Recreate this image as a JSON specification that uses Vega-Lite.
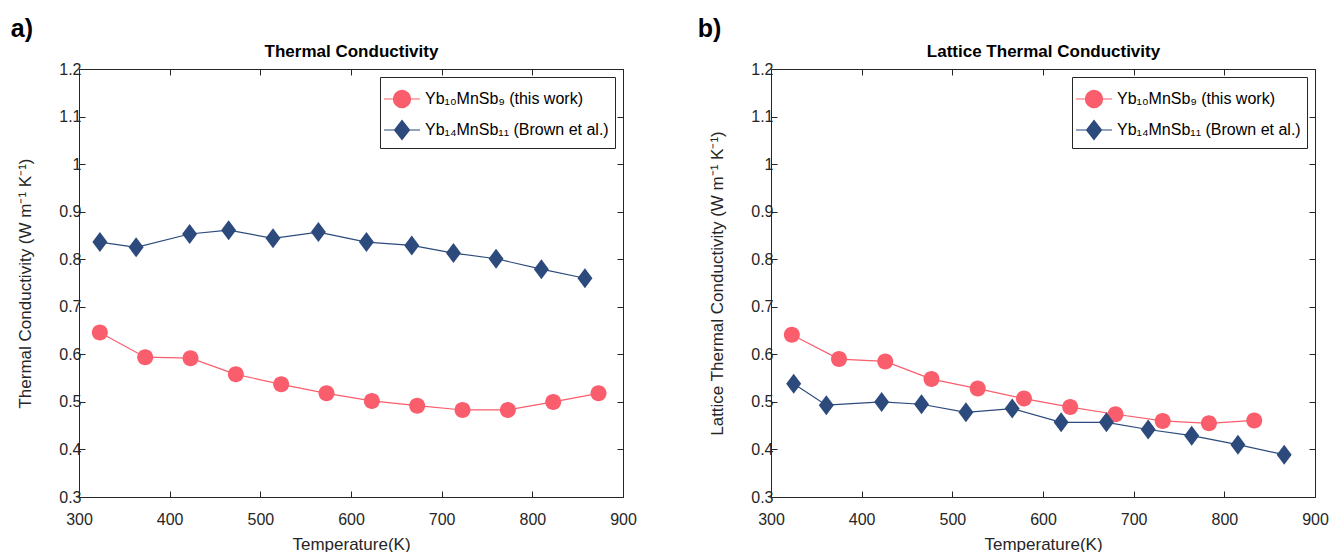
{
  "$schema": "https://vega.github.io/schema/vega-lite/v6.json",
  "background": "white",
  "padding": {"left": 10, "top": 16, "right": 10, "bottom": 0},
  "config": {
    "font": "Liberation Sans",
    "view": {"stroke": null},
    "concat": {"spacing": 60},
    "axis": {
      "grid": false,
      "domainColor": "#262626",
      "tickColor": "#262626",
      "labelColor": "#262626",
      "titleColor": "#262626",
      "labelFont": "Liberation Sans",
      "titleFont": "Liberation Sans",
      "labelFontSize": 16,
      "titleFontSize": 17,
      "titleFontWeight": "normal",
      "tickSize": -6,
      "domainWidth": 1,
      "labelFlush": false,
      "labelOverlap": false
    },
    "axisX": {"labelPadding": 20, "titlePadding": 9},
    "axisY": {"labelPadding": 4},
    "legend": {
      "orient": "top-right", "offset": 8,
      "strokeColor": "#262626", "fillColor": "white", "padding": 6,
      "labelFont": "Liberation Sans", "labelFontSize": 16, "labelColor": "#000000", "labelLimit": 400,
      "symbolSize": 900, "labelOffset": 7, "rowPadding": 4
    },
    "title": {"font": "Liberation Sans", "color": "#000000"}
  },
  "resolve": {"scale": {"color": "independent"}, "legend": {"color": "independent"}},
  "datasets": {
    "a": [
      {"T": 323, "k": 0.646, "series": "Yb₁₀MnSb₉ (this work)"},
      {"T": 373, "k": 0.594, "series": "Yb₁₀MnSb₉ (this work)"},
      {"T": 423, "k": 0.592, "series": "Yb₁₀MnSb₉ (this work)"},
      {"T": 473, "k": 0.558, "series": "Yb₁₀MnSb₉ (this work)"},
      {"T": 523, "k": 0.537, "series": "Yb₁₀MnSb₉ (this work)"},
      {"T": 573, "k": 0.518, "series": "Yb₁₀MnSb₉ (this work)"},
      {"T": 623, "k": 0.502, "series": "Yb₁₀MnSb₉ (this work)"},
      {"T": 673, "k": 0.492, "series": "Yb₁₀MnSb₉ (this work)"},
      {"T": 723, "k": 0.483, "series": "Yb₁₀MnSb₉ (this work)"},
      {"T": 773, "k": 0.483, "series": "Yb₁₀MnSb₉ (this work)"},
      {"T": 823, "k": 0.500, "series": "Yb₁₀MnSb₉ (this work)"},
      {"T": 873, "k": 0.518, "series": "Yb₁₀MnSb₉ (this work)"},
      {"T": 323, "k": 0.836, "series": "Yb₁₄MnSb₁₁ (Brown et al.)"},
      {"T": 363, "k": 0.825, "series": "Yb₁₄MnSb₁₁ (Brown et al.)"},
      {"T": 422, "k": 0.853, "series": "Yb₁₄MnSb₁₁ (Brown et al.)"},
      {"T": 465, "k": 0.861, "series": "Yb₁₄MnSb₁₁ (Brown et al.)"},
      {"T": 514, "k": 0.844, "series": "Yb₁₄MnSb₁₁ (Brown et al.)"},
      {"T": 564, "k": 0.857, "series": "Yb₁₄MnSb₁₁ (Brown et al.)"},
      {"T": 617, "k": 0.836, "series": "Yb₁₄MnSb₁₁ (Brown et al.)"},
      {"T": 667, "k": 0.829, "series": "Yb₁₄MnSb₁₁ (Brown et al.)"},
      {"T": 713, "k": 0.813, "series": "Yb₁₄MnSb₁₁ (Brown et al.)"},
      {"T": 760, "k": 0.801, "series": "Yb₁₄MnSb₁₁ (Brown et al.)"},
      {"T": 810, "k": 0.779, "series": "Yb₁₄MnSb₁₁ (Brown et al.)"},
      {"T": 858, "k": 0.760, "series": "Yb₁₄MnSb₁₁ (Brown et al.)"}
    ],
    "b": [
      {"T": 323, "k": 0.641, "series": "Yb₁₀MnSb₉ (this work)"},
      {"T": 375, "k": 0.590, "series": "Yb₁₀MnSb₉ (this work)"},
      {"T": 426, "k": 0.585, "series": "Yb₁₀MnSb₉ (this work)"},
      {"T": 477, "k": 0.548, "series": "Yb₁₀MnSb₉ (this work)"},
      {"T": 528, "k": 0.528, "series": "Yb₁₀MnSb₉ (this work)"},
      {"T": 579, "k": 0.507, "series": "Yb₁₀MnSb₉ (this work)"},
      {"T": 630, "k": 0.489, "series": "Yb₁₀MnSb₉ (this work)"},
      {"T": 680, "k": 0.474, "series": "Yb₁₀MnSb₉ (this work)"},
      {"T": 732, "k": 0.460, "series": "Yb₁₀MnSb₉ (this work)"},
      {"T": 783, "k": 0.455, "series": "Yb₁₀MnSb₉ (this work)"},
      {"T": 833, "k": 0.461, "series": "Yb₁₀MnSb₉ (this work)"},
      {"T": 325, "k": 0.538, "series": "Yb₁₄MnSb₁₁ (Brown et al.)"},
      {"T": 361, "k": 0.493, "series": "Yb₁₄MnSb₁₁ (Brown et al.)"},
      {"T": 422, "k": 0.500, "series": "Yb₁₄MnSb₁₁ (Brown et al.)"},
      {"T": 466, "k": 0.495, "series": "Yb₁₄MnSb₁₁ (Brown et al.)"},
      {"T": 515, "k": 0.478, "series": "Yb₁₄MnSb₁₁ (Brown et al.)"},
      {"T": 566, "k": 0.486, "series": "Yb₁₄MnSb₁₁ (Brown et al.)"},
      {"T": 620, "k": 0.457, "series": "Yb₁₄MnSb₁₁ (Brown et al.)"},
      {"T": 670, "k": 0.457, "series": "Yb₁₄MnSb₁₁ (Brown et al.)"},
      {"T": 716, "k": 0.442, "series": "Yb₁₄MnSb₁₁ (Brown et al.)"},
      {"T": 764, "k": 0.429, "series": "Yb₁₄MnSb₁₁ (Brown et al.)"},
      {"T": 815, "k": 0.410, "series": "Yb₁₄MnSb₁₁ (Brown et al.)"},
      {"T": 866, "k": 0.389, "series": "Yb₁₄MnSb₁₁ (Brown et al.)"}
    ]
  },
  "hconcat": [
    {
      "title": {"text": "a)", "anchor": "start", "frame": "bounds", "fontSize": 25, "fontWeight": "bold", "dx": -6, "offset": 1},
      "width": 544,
      "height": 428,
      "data": {"name": "a"},
      "layer": [
        {
          "mark": {"type": "line", "strokeWidth": 1.2},
          "encoding": {
            "x": {"field": "T", "type": "quantitative", "scale": {"domain": [300, 900], "nice": false, "zero": false}, "axis": {"values": [300, 400, 500, 600, 700, 800, 900], "title": "Temperature(K)"}},
            "y": {"field": "k", "type": "quantitative", "scale": {"domain": [0.3, 1.2], "nice": false, "zero": false}, "axis": {"values": [0.3, 0.4, 0.5, 0.6, 0.7, 0.8, 0.9, 1, 1.1, 1.2], "format": "~g", "title": "Thermal Conductivity (W m⁻¹ K⁻¹)", "titlePadding": 24}},
            "color": {
              "field": "series", "type": "nominal",
              "scale": {"domain": ["Yb₁₀MnSb₉ (this work)", "Yb₁₄MnSb₁₁ (Brown et al.)"], "range": ["#FA5D6C", "#2D4A7C"]},
              "legend": {
                "title": null,
                "encode": {
                  "symbols": {"update": {
                    "shape": {"signal": "indexof(datum.value, 'this work') >= 0 ? 'M-1.2,0L1.2,0M-0.57,0A0.57,0.57,0,1,1,0.57,0A0.57,0.57,0,1,1,-0.57,0Z' : 'M-1.2,0L1.2,0M-0.5,0L0,-0.63L0.5,0L0,0.63Z'"},
                    "fill": {"signal": "scale('color', datum.value)"},
                    "stroke": {"signal": "scale('color', datum.value)"},
                    "strokeWidth": {"value": 1.2},
                    "opacity": {"value": 1}
                  }}
                }
              }
            }
          }
        },
        {
          "transform": [{"filter": "indexof(datum.series, 'this work') >= 0"}],
          "mark": {"type": "point", "filled": true, "opacity": 1, "size": 400, "shape": "M-0.8,0A0.8,0.8,0,1,1,0.8,0A0.8,0.8,0,1,1,-0.8,0Z"},
          "encoding": {
            "x": {"field": "T", "type": "quantitative", "axis": null},
            "y": {"field": "k", "type": "quantitative", "axis": null},
            "color": {"field": "series", "type": "nominal"}
          }
        },
        {
          "transform": [{"filter": "indexof(datum.series, 'Brown') >= 0"}],
          "mark": {"type": "point", "filled": true, "opacity": 1, "size": 400, "shape": "M-0.75,0L0,-1L0.75,0L0,1Z"},
          "encoding": {
            "x": {"field": "T", "type": "quantitative", "axis": null},
            "y": {"field": "k", "type": "quantitative", "axis": null},
            "color": {"field": "series", "type": "nominal"}
          }
        },
        {
          "mark": {"type": "point", "opacity": 0},
          "encoding": {
            "x": {"field": "T", "type": "quantitative", "axis": {"orient": "top", "values": [300, 400, 500, 600, 700, 800, 900], "labels": false, "title": "Thermal Conductivity", "titleFontWeight": "bold", "titleColor": "#000000", "titlePadding": 8}},
            "y": {"field": "k", "type": "quantitative", "axis": {"orient": "right", "values": [0.3, 0.4, 0.5, 0.6, 0.7, 0.8, 0.9, 1, 1.1, 1.2], "labels": false, "title": null}}
          }
        }
      ],
      "resolve": {"axis": {"x": "independent", "y": "independent"}}
    },
    {
      "title": {"text": "b)", "anchor": "start", "frame": "bounds", "fontSize": 25, "fontWeight": "bold", "dx": -11, "offset": 1},
      "width": 544,
      "height": 428,
      "data": {"name": "b"},
      "layer": [
        {
          "mark": {"type": "line", "strokeWidth": 1.2},
          "encoding": {
            "x": {"field": "T", "type": "quantitative", "scale": {"domain": [300, 900], "nice": false, "zero": false}, "axis": {"values": [300, 400, 500, 600, 700, 800, 900], "title": "Temperature(K)"}},
            "y": {"field": "k", "type": "quantitative", "scale": {"domain": [0.3, 1.2], "nice": false, "zero": false}, "axis": {"values": [0.3, 0.4, 0.5, 0.6, 0.7, 0.8, 0.9, 1, 1.1, 1.2], "format": "~g", "title": "Lattice Thermal Conductivity (W m⁻¹ K⁻¹)", "titlePadding": 24}},
            "color": {
              "field": "series", "type": "nominal",
              "scale": {"domain": ["Yb₁₀MnSb₉ (this work)", "Yb₁₄MnSb₁₁ (Brown et al.)"], "range": ["#FA5D6C", "#2D4A7C"]},
              "legend": {
                "title": null,
                "encode": {
                  "symbols": {"update": {
                    "shape": {"signal": "indexof(datum.value, 'this work') >= 0 ? 'M-1.2,0L1.2,0M-0.57,0A0.57,0.57,0,1,1,0.57,0A0.57,0.57,0,1,1,-0.57,0Z' : 'M-1.2,0L1.2,0M-0.5,0L0,-0.63L0.5,0L0,0.63Z'"},
                    "fill": {"signal": "scale('color', datum.value)"},
                    "stroke": {"signal": "scale('color', datum.value)"},
                    "strokeWidth": {"value": 1.2},
                    "opacity": {"value": 1}
                  }}
                }
              }
            }
          }
        },
        {
          "transform": [{"filter": "indexof(datum.series, 'this work') >= 0"}],
          "mark": {"type": "point", "filled": true, "opacity": 1, "size": 400, "shape": "M-0.8,0A0.8,0.8,0,1,1,0.8,0A0.8,0.8,0,1,1,-0.8,0Z"},
          "encoding": {
            "x": {"field": "T", "type": "quantitative", "axis": null},
            "y": {"field": "k", "type": "quantitative", "axis": null},
            "color": {"field": "series", "type": "nominal"}
          }
        },
        {
          "transform": [{"filter": "indexof(datum.series, 'Brown') >= 0"}],
          "mark": {"type": "point", "filled": true, "opacity": 1, "size": 400, "shape": "M-0.75,0L0,-1L0.75,0L0,1Z"},
          "encoding": {
            "x": {"field": "T", "type": "quantitative", "axis": null},
            "y": {"field": "k", "type": "quantitative", "axis": null},
            "color": {"field": "series", "type": "nominal"}
          }
        },
        {
          "mark": {"type": "point", "opacity": 0},
          "encoding": {
            "x": {"field": "T", "type": "quantitative", "axis": {"orient": "top", "values": [300, 400, 500, 600, 700, 800, 900], "labels": false, "title": "Lattice Thermal Conductivity", "titleFontWeight": "bold", "titleColor": "#000000", "titlePadding": 8}},
            "y": {"field": "k", "type": "quantitative", "axis": {"orient": "right", "values": [0.3, 0.4, 0.5, 0.6, 0.7, 0.8, 0.9, 1, 1.1, 1.2], "labels": false, "title": null}}
          }
        }
      ],
      "resolve": {"axis": {"x": "independent", "y": "independent"}}
    }
  ]
}
